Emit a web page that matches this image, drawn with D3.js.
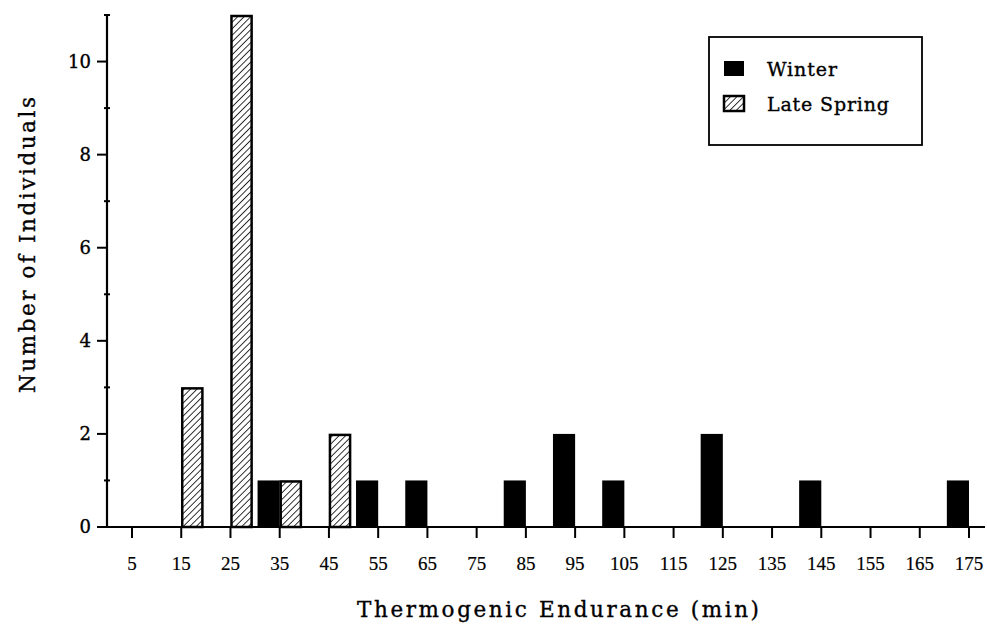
<!DOCTYPE html>
<html>
<head>
<meta charset="utf-8">
<script src="https://cdn.jsdelivr.net/npm/d3@7"></script>
<style>
  body { margin: 0; background: #fff; }
  text { font-family: "DejaVu Serif", "Liberation Serif", serif; fill: #000; stroke: #000; stroke-width: 0.35px; }
  text.xt { font-family: "Liberation Serif", serif; stroke-width: 0.2px; }
</style>
</head>
<body>
<div id="root"></div>
<script>
const width = 987;
const height = 627;

// histogram bins (min) and counts per season
const binTicks = [5, 15, 25, 35, 45, 55, 65, 75, 85, 95, 105, 115, 125, 135, 145, 155, 165, 175];
const winterBins = [35, 55, 65, 85, 95, 105, 125, 145, 175];
const winterCounts = [1, 1, 1, 1, 2, 1, 2, 1, 1];
const springBins = [15, 25, 35, 45];
const springCounts = [3, 11, 1, 2];
const yTicks = [0, 2, 4, 6, 8, 10];
const yMinor = [1, 3, 5, 7, 9];
const seriesNames = ['Winter', 'Late Spring'];

const barW = 4.5; // width of a bar in minutes

const x = d3.scaleLinear().domain([5, 175]).range([132, 969]);
const y = d3.scaleLinear().domain([0, 11]).range([527, 15]);
const axisLeft = 107;

const svg = d3.select('#root')
    .append('svg')
    .attr('width', width)
    .attr('height', height);

// hatch for late spring
const defs = svg.append('defs');
defs.append('pattern')
    .attr('id', 'hatch')
    .attr('patternUnits', 'userSpaceOnUse')
    .attr('width', 4.6)
    .attr('height', 4.6)
    .attr('patternTransform', 'rotate(45)')
    .append('line')
    .attr('x1', 0).attr('y1', 0)
    .attr('x2', 0).attr('y2', 4.6)
    .attr('stroke', '#000')
    .attr('stroke-width', 1.6);

const winter = winterBins.map((b, i) => ({bin: b, n: winterCounts[i]}));
const spring = springBins.map((b, i) => ({bin: b, n: springCounts[i]}));

// winter bars sit left of the tick, spring bars right of it
svg.append('g').selectAll('rect')
    .data(winter)
    .join('rect')
    .attr('x', d => x(d.bin - barW))
    .attr('width', d => x(d.bin) - x(d.bin - barW))
    .attr('y', d => y(d.n))
    .attr('height', d => y(0) - y(d.n))
    .attr('fill', '#000');

svg.append('g').selectAll('rect')
    .data(spring)
    .join('rect')
    .attr('x', d => x(d.bin) + 1)
    .attr('width', d => x(d.bin + barW) - x(d.bin) - 2)
    .attr('y', d => y(d.n) + 1)
    .attr('height', d => y(0) - y(d.n) - 1)
    .attr('fill', 'url(#hatch)')
    .attr('stroke', '#000')
    .attr('stroke-width', 2.5);

// x axis
const gx = svg.append('g');
gx.append('line')
    .attr('x1', axisLeft - 10).attr('x2', 985)
    .attr('y1', y(0)).attr('y2', y(0))
    .attr('stroke', '#000').attr('stroke-width', 2.2);
gx.selectAll('line.tick')
    .data(binTicks)
    .join('line')
    .attr('class', 'tick')
    .attr('x1', d => x(d)).attr('x2', d => x(d))
    .attr('y1', y(0)).attr('y2', y(0) + 11)
    .attr('stroke', '#000').attr('stroke-width', 2);
gx.selectAll('text')
    .data(binTicks)
    .join('text')
    .attr('class', 'xt')
    .attr('x', d => x(d))
    .attr('y', 570)
    .attr('text-anchor', 'middle')
    .style('font-size', '19px')
    .text(d => d);

// y axis
const gy = svg.append('g');
gy.append('line')
    .attr('x1', axisLeft).attr('x2', axisLeft)
    .attr('y1', y(11)).attr('y2', y(0))
    .attr('stroke', '#000').attr('stroke-width', 2.2);
gy.selectAll('line.major')
    .data(yTicks)
    .join('line')
    .attr('class', 'major')
    .attr('x1', axisLeft - 10).attr('x2', axisLeft)
    .attr('y1', d => y(d)).attr('y2', d => y(d))
    .attr('stroke', '#000').attr('stroke-width', 2);
gy.selectAll('line.minor')
    .data(yMinor.concat([11]))
    .join('line')
    .attr('class', 'minor')
    .attr('x1', axisLeft - 3).attr('x2', axisLeft + 3)
    .attr('y1', d => y(d)).attr('y2', d => y(d))
    .attr('stroke', '#000').attr('stroke-width', 2);
gy.selectAll('text')
    .data(yTicks)
    .join('text')
    .attr('x', axisLeft - 16)
    .attr('y', d => y(d))
    .attr('dy', '0.36em')
    .attr('text-anchor', 'end')
    .style('font-size', '18px')
    .text(d => d);

// axis titles
svg.append('text')
    .attr('transform', `translate(35,245) rotate(-90)`)
    .attr('text-anchor', 'middle')
    .attr('textLength', 296)
    .attr('lengthAdjust', 'spacing')
    .style('font-size', '21.5px')
    .text('Number of Individuals');

svg.append('text')
    .attr('x', 558)
    .attr('y', 617)
    .attr('text-anchor', 'middle')
    .attr('textLength', 402)
    .attr('lengthAdjust', 'spacing')
    .style('font-size', '21.5px')
    .text('Thermogenic Endurance (min)');

// legend
const legend = svg.append('g');
legend.append('rect')
    .attr('x', 709).attr('y', 37)
    .attr('width', 213).attr('height', 108)
    .attr('fill', '#fff')
    .attr('stroke', '#000').attr('stroke-width', 1.8);
const items = legend.selectAll('g')
    .data(seriesNames)
    .join('g')
    .attr('transform', (d, i) => `translate(724,${61 + i * 35})`);
items.append('rect')
    .attr('width', 20).attr('height', 15)
    .attr('fill', (d, i) => i === 0 ? '#000' : 'url(#hatch)')
    .attr('stroke', '#000')
    .attr('stroke-width', (d, i) => i === 0 ? 0 : 2.5);
items.append('text')
    .attr('x', 43)
    .attr('y', 8)
    .attr('dy', '0.36em')
    .attr('textLength', (d, i) => i === 0 ? 70 : 122)
    .attr('lengthAdjust', 'spacing')
    .style('font-size', '19px')
    .text(d => d);
</script>
</body>
</html>
